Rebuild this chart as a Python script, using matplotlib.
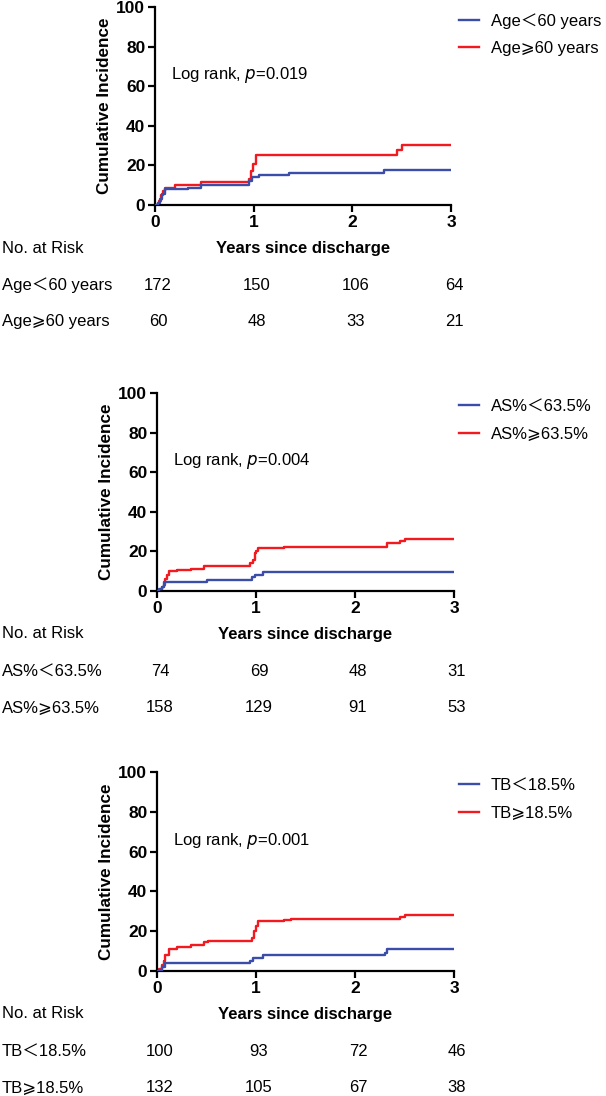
import matplotlib
matplotlib.use("Agg")
import matplotlib.pyplot as plt

plt.rcParams['font.family'] = ['Liberation Sans', 'Noto Sans CJK SC', 'DejaVu Sans']

# ---------------- data ----------------
xticks = [0, 1, 2, 3]
yticks = [0, 20, 40, 60, 80, 100]
pvalues = ["0.019", "0.004", "0.001"]

labels_low = ["Age＜60 years", "AS%＜63.5%", "TB＜18.5%"]
labels_high = ["Age⩾60 years", "AS%⩾63.5%", "TB⩾18.5%"]

# Panel 1 (Age)
age_low_t = [0, 0.03, 0.05, 0.07, 0.1, 0.33, 0.47, 0.95, 0.98, 1.05, 1.36, 2.32, 3.0]
age_low_v = [0, 1, 3, 5.5, 8, 8.8, 10, 12, 14, 15.2, 16, 17.5, 17.5]
age_high_t = [0, 0.04, 0.06, 0.08, 0.1, 0.2, 0.47, 0.95, 0.97, 0.99, 1.02, 2.45, 2.5, 3.0]
age_high_v = [0, 2, 5, 7, 8.5, 10, 11.8, 13, 17, 20.5, 25.3, 27.6, 30.2, 30.2]

# Panel 2 (AS%)
as_low_t = [0, 0.02, 0.05, 0.07, 0.5, 0.96, 0.99, 1.07, 3.0]
as_low_v = [0, 1, 2, 4.3, 5.5, 7.2, 8.2, 9.4, 9.4]
as_high_t = [0, 0.05, 0.07, 0.08, 0.1, 0.12, 0.2, 0.34, 0.47, 0.94, 0.97, 0.99,
             1.0, 1.02, 1.28, 2.32, 2.45, 2.5, 3.0]
as_high_v = [0, 2, 3, 6, 8, 10, 10.6, 11.3, 12.5, 14, 15.6, 19,
             20, 21.5, 22, 24.2, 25.3, 26.2, 26.2]

# Panel 3 (TB)
tb_low_t = [0, 0.05, 0.08, 0.94, 0.97, 1.07, 2.3, 2.32, 3.0]
tb_low_v = [0, 2, 4.1, 5, 6.7, 8, 9.2, 10.9, 10.9]
tb_high_t = [0, 0.02, 0.05, 0.07, 0.08, 0.12, 0.2, 0.34, 0.47, 0.52, 0.96, 0.98,
             1.0, 1.02, 1.28, 1.35, 2.45, 2.5, 3.0]
tb_high_v = [0, 1, 3, 5, 8, 11.3, 12.1, 13.2, 14.5, 15.1, 16.8, 20,
             22.5, 24.9, 25.5, 26, 27.2, 28.2, 28.2]

# Numbers at risk
risk_age_low = [172, 150, 106, 64]
risk_age_high = [60, 48, 33, 21]
risk_as_low = [74, 69, 48, 31]
risk_as_high = [158, 129, 91, 53]
risk_tb_low = [100, 93, 72, 46]
risk_tb_high = [132, 105, 67, 38]

panels = [
    (age_low_t, age_low_v, age_high_t, age_high_v, risk_age_low, risk_age_high),
    (as_low_t, as_low_v, as_high_t, as_high_v, risk_as_low, risk_as_high),
    (tb_low_t, tb_low_v, tb_high_t, tb_high_v, risk_tb_low, risk_tb_high),
]

# ---------------- layout ----------------
W, H = 606, 1096
fig = plt.figure(figsize=(W / 100, H / 100), dpi=100)

BLUE = '#3A4DA8'
RED = '#F2191F'
FS = 12

# axes pixel boxes: (left, right, top, bottom)
boxes = [(155, 451, 7, 205), (157, 454, 393, 591), (157, 454, 772, 971)]

def fx(px):
    return px / W

def fy(py):
    return 1 - py / H

for i, (box, pdata) in enumerate(zip(boxes, panels)):
    l, r, t, b = box
    lt, lv, ht, hv, rl, rh = pdata
    ax = fig.add_axes([fx(l), fy(b), fx(r) - fx(l), fy(t) - fy(b)])
    ax.step(lt, lv, where='post', color=BLUE, lw=1.7, label=labels_low[i], zorder=3)
    ax.step(ht, hv, where='post', color=RED, lw=1.7, label=labels_high[i], zorder=2)
    ax.set_xlim(0, 3)
    ax.set_ylim(0, 100)
    ax.set_xticks(xticks)
    ax.set_yticks(yticks)
    for s in ['top', 'right']:
        ax.spines[s].set_visible(False)
    for s in ['left', 'bottom']:
        ax.spines[s].set_linewidth(1.6)
    ax.tick_params(direction='out', length=5, width=1.6, labelsize=12.5, pad=2)
    for lab in ax.get_xticklabels() + ax.get_yticklabels():
        lab.set_fontweight('bold')
    ax.set_ylabel('Cumulative Incidence', fontsize=12.3, fontweight='bold', labelpad=3)
    ax.text(0.055, 0.655, f'Log rank, $\\it{{p}}$=' + pvalues[i], transform=ax.transAxes,
            fontsize=FS, va='center', ha='left')
    # legend
    leg = ax.legend(loc='upper left', bbox_to_anchor=((459 - l) / (r - l), 0.97),
                    frameon=False, fontsize=FS, handlelength=1.2, handletextpad=0.7,
                    labelspacing=0.75, borderaxespad=0, borderpad=0)
    ax.patch.set_alpha(0)
    # x label and risk table
    fig.text(fx((l + r) / 2), fy(b + 43), 'Years since discharge', fontsize=FS,
             fontweight='bold', ha='center', va='center')
    fig.text(fx(2), fy(b + 43), 'No. at Risk', fontsize=FS, ha='left', va='center')
    fig.text(fx(2), fy(b + 80), labels_low[i], fontsize=FS, ha='left', va='center')
    fig.text(fx(2), fy(b + 117), labels_high[i], fontsize=FS, ha='left', va='center')
    for xv, n1, n2 in zip(xticks, rl, rh):
        xp = l + (r - l) * xv / 3 + 3
        fig.text(fx(xp), fy(b + 80), str(n1), fontsize=FS, ha='center', va='center')
        fig.text(fx(xp), fy(b + 117), str(n2), fontsize=FS, ha='center', va='center')

fig.savefig('out.png', dpi=100)
